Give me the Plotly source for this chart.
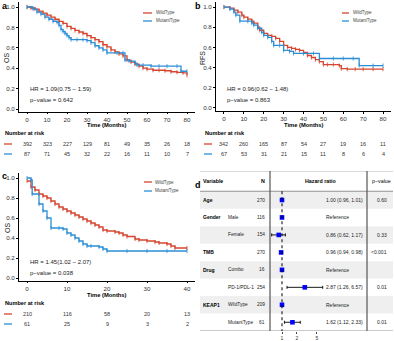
import plotly.graph_objects as go

W, H = 394, 341
RED = "#D6452E"
BLUE = "#2B8ED6"
FONT = "Liberation Sans, Arial, sans-serif"

# ---------------- data ----------------
# Panel a (OS)
a_wt_t = [0, 2, 4, 6, 8, 10, 12, 14, 16, 18, 20, 22, 24, 26, 28, 30, 32, 34, 36, 38, 40, 42, 44, 46, 48, 50, 52, 54, 56, 58, 60, 63, 66, 69, 72, 75, 78, 80]
a_wt_s = [1.0, 0.99, 0.98, 0.96, 0.94, 0.92, 0.90, 0.88, 0.86, 0.84, 0.81, 0.79, 0.77, 0.755, 0.74, 0.72, 0.70, 0.68, 0.66, 0.63, 0.61, 0.58, 0.56, 0.54, 0.52, 0.48, 0.46, 0.44, 0.42, 0.40, 0.39, 0.38, 0.38, 0.375, 0.365, 0.36, 0.355, 0.33]
a_mt_t = [0, 3, 5, 7, 9, 11, 13, 15, 16, 17, 18, 19, 20, 21, 22, 25, 28, 30, 32, 34, 36, 38, 40, 45, 48, 49, 51, 54, 55, 58, 62, 66, 70, 75, 77, 80]
a_mt_s = [1.0, 0.98, 0.95, 0.93, 0.90, 0.88, 0.86, 0.85, 0.82, 0.78, 0.76, 0.74, 0.72, 0.70, 0.68, 0.68, 0.68, 0.67, 0.65, 0.62, 0.60, 0.58, 0.55, 0.55, 0.55, 0.48, 0.47, 0.45, 0.43, 0.43, 0.42, 0.42, 0.42, 0.42, 0.37, 0.37]
# Panel b (RFS)
b_wt_t = [0, 3, 5, 7, 9, 10, 12, 14, 15, 17, 18, 20, 22, 24, 26, 28, 30, 32, 34, 36, 38, 40, 42, 44, 46, 48, 50, 52, 55, 58, 59, 62, 66, 70, 75, 80]
b_wt_s = [1.0, 0.99, 0.97, 0.95, 0.92, 0.90, 0.88, 0.86, 0.84, 0.80, 0.77, 0.74, 0.72, 0.71, 0.69, 0.66, 0.62, 0.60, 0.59, 0.58, 0.57, 0.55, 0.52, 0.50, 0.48, 0.46, 0.43, 0.43, 0.43, 0.42, 0.39, 0.385, 0.385, 0.385, 0.385, 0.385]
b_mt_t = [0, 3, 5, 6, 8, 12, 14, 15, 17, 19, 20, 22, 24, 25, 28, 30, 33, 35, 40, 45, 48, 55, 60, 65, 68, 75, 80]
b_mt_s = [1.0, 0.98, 0.95, 0.92, 0.86, 0.86, 0.84, 0.82, 0.79, 0.75, 0.72, 0.70, 0.66, 0.62, 0.62, 0.57, 0.56, 0.54, 0.54, 0.54, 0.49, 0.49, 0.49, 0.49, 0.42, 0.42, 0.42]
# Panel c (OS)
c_wt_t = [0, 1, 2, 3, 4, 5, 6, 7, 8, 9, 10, 11, 12, 13, 14, 15, 16, 17, 18, 19, 20, 22, 23, 24, 25, 27, 28, 30, 32, 33, 35, 36, 37, 40]
c_wt_s = [0.97, 0.91, 0.88, 0.84, 0.82, 0.80, 0.77, 0.74, 0.71, 0.69, 0.67, 0.65, 0.63, 0.61, 0.59, 0.57, 0.55, 0.53, 0.51, 0.48, 0.47, 0.46, 0.45, 0.43, 0.415, 0.39, 0.38, 0.37, 0.36, 0.35, 0.34, 0.32, 0.30, 0.30]
c_mt_t = [0, 1, 1.3, 3, 4, 5, 6, 8, 9, 10, 11, 12, 13, 14, 15, 16, 18, 19, 20, 25, 30, 35, 40]
c_mt_s = [1.0, 0.98, 0.84, 0.74, 0.67, 0.60, 0.50, 0.50, 0.49, 0.45, 0.43, 0.40, 0.37, 0.34, 0.32, 0.32, 0.31, 0.29, 0.27, 0.27, 0.27, 0.27, 0.27]

risk_times_ab = [0, 10, 20, 30, 40, 50, 60, 70, 80]
a_risk_wt = [392, 323, 227, 129, 81, 49, 35, 26, 18]
a_risk_mt = [87, 71, 45, 32, 22, 16, 11, 10, 7]
b_risk_wt = [342, 260, 165, 87, 54, 27, 19, 16, 11]
b_risk_mt = [67, 53, 31, 21, 15, 11, 8, 6, 4]
risk_times_c = [0, 10, 20, 30, 40]
c_risk_wt = [210, 116, 58, 20, 13]
c_risk_mt = [61, 25, 9, 3, 2]

a_hr, a_p = "HR = 1.09(0.75 − 1.59)", "p−value = 0.642"
b_hr, b_p = "HR = 0.96(0.62 − 1.48)", "p−value = 0.863"
c_hr, c_p = "HR = 1.45(1.02 − 2.07)", "p−value = 0.038"

# Forest plot (panel d)
f_var = ["Age", "Gender", "", "TMB", "Drug", "", "KEAP1", ""]
f_level = ["", "Male", "Female", "", "Combo", "PD-1/PDL-1", "WildType", "MutantType"]
f_n = [270, 116, 154, 270, 16, 254, 209, 61]
f_hr = [1.00, 1.0, 0.86, 0.96, 1.0, 2.87, 1.0, 1.62]
f_lo = [0.96, 1.0, 0.62, 0.94, 1.0, 1.26, 1.0, 1.12]
f_hi = [1.01, 1.0, 1.17, 0.98, 1.0, 6.57, 1.0, 2.33]
f_txt = ["1.00 (0.96, 1.01)", "Reference", "0.86 (0.62, 1.17)", "0.96 (0.94, 0.98)",
         "Reference", "2.87 (1.26, 6.57)", "Reference", "1.62 (1.12, 2.33)"]
f_p = ["0.60", "", "0.33", "<0.001", "", "0.01", "", "0.01"]


def PX(x):
    return x / W


def PY(y):
    return 1 - y / H


fig = go.Figure()
ann = []
shp = []


def txt(x, y, s, size=5.5, bold=False, xanchor="left", xref="paper", yref="paper", angle=0, color="#222"):
    ann.append(dict(x=x, y=y, xref=xref, yref=yref, text=("<b>%s</b>" % s) if bold else s,
                    showarrow=False, xanchor=xanchor, yanchor="middle", textangle=angle,
                    font=dict(family=FONT, size=size, color=color)))


panels = [
    dict(k="", dx=(19, 195), dy=(2, 111.5), xr=[-4, 84], yr=[-0.0245, 1.049],
         wt=(a_wt_t, a_wt_s), mt=(a_mt_t, a_mt_s), rt=risk_times_ab, rw=a_risk_wt, rm=a_risk_mt,
         hr=a_hr, p=a_p, ylab="OS", letter="a", lx=0, ly=6, x0=0, hry=89,
         leg=(143, 152, 154, 13, 21), time_y=125, nar_y=133, r1=144, r2=154, ylab_x=7, ylab_y=58, hrx=28),
    dict(k="2", dx=(216, 391), dy=(2, 111), xr=[-4, 84], yr=[-0.03, 1.05],
         wt=(b_wt_t, b_wt_s), mt=(b_mt_t, b_mt_s), rt=risk_times_ab, rw=b_risk_wt, rm=b_risk_mt,
         hr=b_hr, p=b_p, ylab="RFS", letter="b", lx=193, ly=6, x0=200, hry=89,
         leg=(342, 349, 351, 13, 21), time_y=125, nar_y=133, r1=144, r2=154, ylab_x=203, ylab_y=58, hrx=225),
    dict(k="3", dx=(19, 195), dy=(173, 280.5), xr=[-2, 42], yr=[-0.025, 1.05],
         wt=(c_wt_t, c_wt_s), mt=(c_mt_t, c_mt_s), rt=risk_times_c, rw=c_risk_wt, rm=c_risk_mt,
         hr=c_hr, p=c_p, ylab="OS", letter="c", lx=0, ly=176, x0=0, hry=262,
         leg=(144, 152, 153, 182, 191), time_y=295, nar_y=303, r1=314, r2=324, ylab_x=7, ylab_y=228, hrx=28),
]

for P in panels:
    k = P["k"]
    xa, ya = "x" + k, "y" + k
    for (t, s), col in ((P["wt"], RED), (P["mt"], BLUE)):
        fig.add_trace(go.Scatter(x=t, y=s, xaxis=xa, yaxis=ya, mode="lines+markers",
                                 line=dict(color=col, width=1.3, shape="hv"),
                                 marker=dict(symbol="line-ns-open", size=3, line=dict(color=col, width=0.8)),
                                 showlegend=False, hoverinfo="skip"))
    axcommon = dict(showline=True, linecolor="black", linewidth=0.9, ticks="outside", ticklen=2,
                    tickcolor="black", tickwidth=0.8, showgrid=False, zeroline=False,
                    tickfont=dict(family=FONT, size=6.2, color="#333"), fixedrange=True)
    fig.layout["xaxis" + k] = dict(domain=[PX(P["dx"][0]), PX(P["dx"][1])], range=P["xr"],
                                   anchor=ya, tickvals=P["rt"], **axcommon)
    fig.layout["yaxis" + k] = dict(domain=[PY(P["dy"][1]), PY(P["dy"][0])], range=P["yr"],
                                   anchor=xa, tickvals=[0, 0.2, 0.4, 0.6, 0.8, 1.0], tickformat=".1f", **axcommon)
    # texts
    txt(PX(P["ylab_x"]), PY(P["ylab_y"]), P["ylab"], size=7, angle=-90, xanchor="center")
    txt(PX(P["lx"]), PY(P["ly"]), P["letter"], size=9, bold=True, color="black")
    txt(PX(P["hrx"]), PY(P["hry"]), P["hr"], size=6)
    txt(PX(P["hrx"]), PY(P["hry"] + 11), P["p"], size=6)
    l0, l1, tx, y1, y2 = P["leg"]
    for yy, col, name in ((y1, RED, "WildType"), (y2, BLUE, "MutantType")):
        shp.append(dict(type="line", xref="paper", yref="paper", x0=PX(l0), x1=PX(l1), y0=PY(yy), y1=PY(yy),
                        line=dict(color=col, width=1.3)))
        txt(PX(tx), PY(yy), name, size=4.5, color="#444")
    xm = (P["dx"][0] + P["dx"][1]) / 2
    txt(PX(xm), PY(P["time_y"]), "Time (Months)", size=5.8, bold=True, xanchor="center", color="black")
    txt(PX(P["x0"] + 3), PY(P["nar_y"]), "Number at risk", size=5.6, bold=True, color="black")
    for yy, col, vals in ((P["r1"], RED, P["rw"]), (P["r2"], BLUE, P["rm"])):
        shp.append(dict(type="line", xref="paper", yref="paper", x0=PX(P["x0"] + 4), x1=PX(P["x0"] + 12),
                        y0=PY(yy), y1=PY(yy), line=dict(color=col, width=1.3)))
        for tt, v in zip(P["rt"], vals):
            txt(tt, PY(yy), str(v), size=5.5, xanchor="center", xref=xa, color="#333")

# ---------------- forest plot ----------------
rows = list(range(len(f_n)))
fig.add_trace(go.Scatter(x=f_hr, y=rows, xaxis="x4", yaxis="y4", mode="markers",
                         marker=dict(symbol="square", size=4.6, color="#0000FF", line=dict(width=0)),
                         error_x=dict(type="data", symmetric=False,
                                      array=[h - m for h, m in zip(f_hi, f_hr)],
                                      arrayminus=[m - l for m, l in zip(f_hr, f_lo)],
                                      color="black", thickness=0.9, width=1.5),
                         showlegend=False, hoverinfo="skip"))
fig.layout.xaxis4 = dict(domain=[PX(270), PX(367)], type="log", range=[-0.241, 1.707], anchor="y4",
                         tickvals=[1, 2, 5], ticktext=["1", "2", "5"], showgrid=False, zeroline=False,
                         showline=False, ticks="outside", ticklen=2, tickcolor="#444",
                         tickfont=dict(family=FONT, size=5, color="#333"), fixedrange=True)
fig.layout.yaxis4 = dict(domain=[PY(331), PY(171)], range=[7.5, -1.66], anchor="x4", visible=False,
                         fixedrange=True)

TL, TR = PX(200), PX(393)
for r in rows:
    if r % 2 == 0:
        shp.append(dict(type="rect", xref="paper", yref="y4", x0=TL, x1=TR, y0=r - 0.5, y1=r + 0.5,
                        fillcolor="#EFEFEF", line=dict(width=0), layer="below"))
for yv, c in ((-1.66, "#AAAAAA"), (-0.5, "#888888"), (7.5, "#888888")):
    shp.append(dict(type="line", xref="paper", yref="y4", x0=TL, x1=TR, y0=yv, y1=yv, line=dict(color=c, width=0.9)))
for xv in (270, 367):
    shp.append(dict(type="line", xref="paper", yref="y4", x0=PX(xv), x1=PX(xv), y0=-1.66, y1=7.5,
                    line=dict(color="#555555", width=1.2)))
shp.append(dict(type="line", xref="x4", yref="y4", x0=1, x1=1, y0=-0.5, y1=7.5,
                line=dict(color="black", width=1, dash="dot")))

txt(PX(193), PY(185), "d", size=9, bold=True, color="black")
txt(PX(201.5), -1.08, "Variable", size=5.3, bold=True, yref="y4", color="black")
txt(PX(267), -1.08, "N", size=5.3, bold=True, yref="y4", xanchor="right", color="black")
txt(PX(320), -1.08, "Hazard ratio", size=5.3, bold=True, yref="y4", xanchor="center", color="black")
txt(PX(381), -1.08, "p−value", size=5.3, yref="y4", xanchor="center", color="black")
for r in rows:
    if f_var[r]:
        txt(PX(201.5), r, f_var[r], size=5, bold=True, yref="y4", color="black")
    if f_level[r]:
        txt(PX(226), r, f_level[r], size=4.8, yref="y4")
    txt(PX(267), r, str(f_n[r]), size=4.8, yref="y4", xanchor="right")
    txt(PX(324), r, f_txt[r], size=5, yref="y4")
    if f_p[r]:
        txt(PX(389), r, f_p[r], size=5, yref="y4", xanchor="right")

fig.update_layout(width=W, height=H, margin=dict(l=0, r=0, t=0, b=0),
                  paper_bgcolor="white", plot_bgcolor="white",
                  annotations=ann, shapes=shp, showlegend=False,
                  font=dict(family=FONT))
fig.write_html("out.html", config={"displayModeBar": False})
